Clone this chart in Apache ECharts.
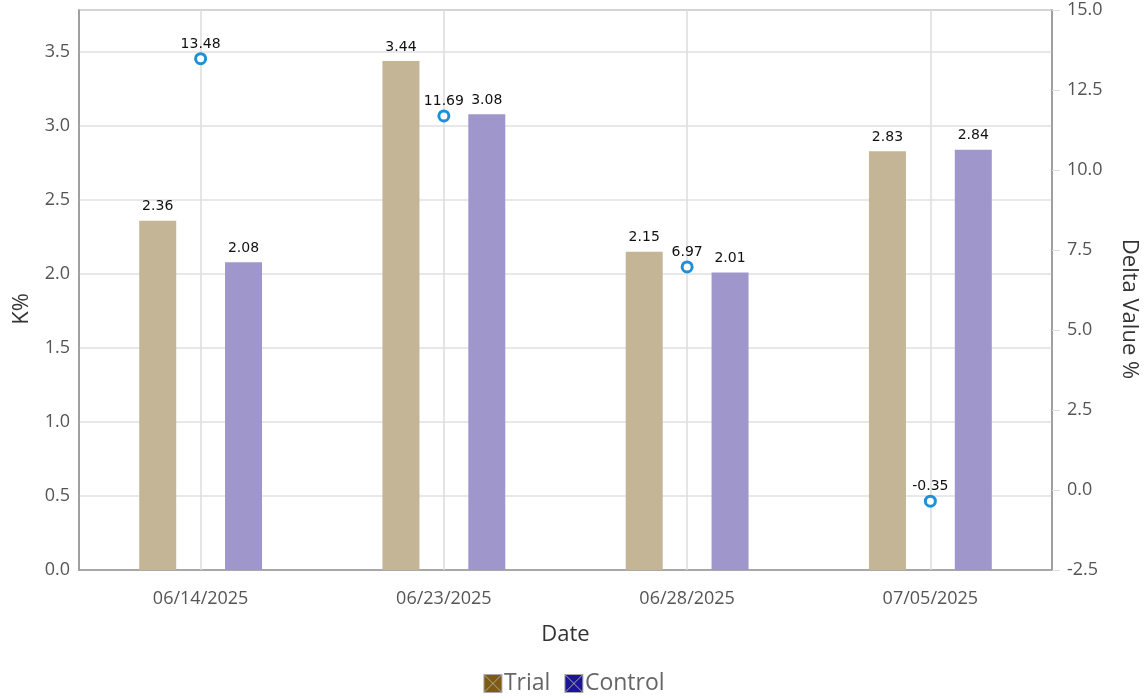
<!DOCTYPE html>
<html>
<head>
<meta charset="utf-8">
<script src="https://cdn.jsdelivr.net/npm/echarts@6/dist/echarts.min.js"></script>
<style>html,body{margin:0;padding:0;background:#fff;}#c{width:1148px;height:700px;}</style>
</head>
<body>
<div id="c"></div>
<script>
const categories = ['06/14/2025', '06/23/2025', '06/28/2025', '07/05/2025'];
const trialValues = [2.36, 3.44, 2.15, 2.83];
const controlValues = [2.08, 3.08, 2.01, 2.84];
const deltaValues = [13.48, 11.69, 6.97, -0.35];
const leftTicks = { min: 0, max: 3.784, interval: 0.5 };
const rightTicks = { min: -2.5, max: 15, interval: 2.5 };

const chart = echarts.init(document.getElementById('c'), null, { renderer: 'canvas' });
const labelFont = { color: '#111', fontSize: 14, fontFamily: 'DejaVu Sans, sans-serif' };
const axisFont = { color: '#555', fontSize: 18, fontFamily: 'Open Sans, sans-serif' };
const nameFont = { color: '#333', fontSize: 22, fontFamily: 'Open Sans, sans-serif' };
const iconPath = 'path://M0,0L10,0L10,10L0,10Z M0,0L10,10 M10,0L0,10';

chart.setOption({
  animation: false,
  grid: { left: 79, right: 95, top: 10, bottom: 130, show: true, borderColor: '#999', borderWidth: 1.5, containLabel: false },
  legend: {
    bottom: 0, left: 'center', itemWidth: 18, itemHeight: 18, itemGap: 14,
    textStyle: { color: '#666', fontSize: 23, fontFamily: 'Open Sans, sans-serif', padding: [0, 0, 0, -3] },
    data: [
      { name: 'Trial', icon: iconPath, itemStyle: { color: '#7d5c12', borderColor: '#aaa', borderWidth: 1, opacity: 1 } },
      { name: 'Control', icon: iconPath, itemStyle: { color: '#1c1596', borderColor: '#aaa', borderWidth: 1, opacity: 1 } }
    ]
  },
  xAxis: {
    type: 'category', data: categories,
    name: 'Date', nameLocation: 'middle', nameGap: 54,
    nameTextStyle: nameFont,
    axisLine: { lineStyle: { color: '#999', width: 1.5 } },
    axisTick: { show: false },
    axisLabel: Object.assign({ margin: 20 }, axisFont),
    splitLine: { show: false }
  },
  yAxis: [
    {
      type: 'value', min: leftTicks.min, max: leftTicks.max, interval: leftTicks.interval,
      name: 'K%', nameLocation: 'middle', nameGap: 46,
      nameTextStyle: Object.assign({ padding: [0, 38, 0, 0] }, nameFont),
      axisLine: { show: true, lineStyle: { color: '#999', width: 1.5 } },
      axisTick: { show: false },
      axisLabel: Object.assign({ margin: 9, showMaxLabel: false, formatter: v => v.toFixed(1) }, axisFont),
      splitLine: { show: true, lineStyle: { color: '#e0e0e0', width: 1.5 } }
    },
    {
      type: 'value', min: rightTicks.min, max: rightTicks.max, interval: rightTicks.interval,
      name: 'Delta Value %', nameLocation: 'middle', nameGap: 66, nameRotate: -90,
      nameTextStyle: Object.assign({ padding: [0, 0, 0, 38] }, nameFont),
      axisLine: { show: true, lineStyle: { color: '#999', width: 1.5 } },
      axisTick: { show: true, length: 8, lineStyle: { color: '#ddd' } },
      axisLabel: Object.assign({ margin: 15, formatter: v => v.toFixed(1) }, axisFont),
      splitLine: { show: false }
    }
  ],
  series: [
    {
      name: 'Trial', type: 'bar', yAxisIndex: 0, data: trialValues,
      barWidth: 37, barGap: '132%',
      itemStyle: { color: '#c4b596' },
      label: Object.assign({ show: true, position: 'top', distance: 7 }, labelFont)
    },
    {
      name: 'Control', type: 'bar', yAxisIndex: 0, data: controlValues,
      barWidth: 37, barGap: '132%',
      itemStyle: { color: '#9f97cc' },
      label: Object.assign({ show: true, position: 'top', distance: 7 }, labelFont)
    },
    {
      name: 'Delta', type: 'line', yAxisIndex: 1, data: deltaValues,
      symbol: 'circle', symbolSize: 10,
      lineStyle: { width: 0, opacity: 0 },
      itemStyle: { color: '#ffffff', borderColor: '#1e90d8', borderWidth: 3 },
      label: Object.assign({ show: true, position: 'top', distance: 1 }, labelFont),
      markLine: {
        silent: true, symbol: 'none', label: { show: false },
        lineStyle: { color: '#dcdcdc', type: 'solid', width: 1.5 },
        data: categories.map(c => ({ xAxis: c }))
      },
      z: 5
    }
  ]
});
</script>
</body>
</html>
